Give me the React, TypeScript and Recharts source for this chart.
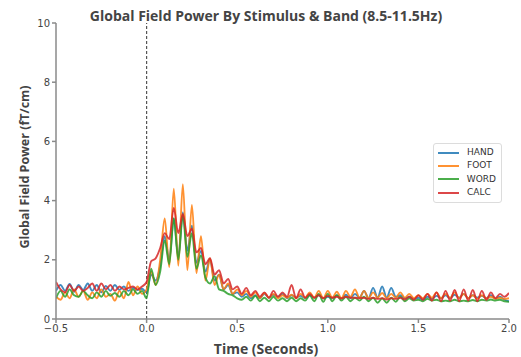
import React from "react";
import { LineChart, Line, XAxis, YAxis, ReferenceLine } from "recharts";

const times = [
  -0.5, -0.475, -0.45, -0.425, -0.4, -0.375, -0.35, -0.325, -0.3, -0.275,
  -0.25, -0.225, -0.2, -0.175, -0.15, -0.125, -0.1, -0.075, -0.05, -0.025,
  0, 0.025, 0.05, 0.075, 0.1, 0.125, 0.15, 0.175, 0.2, 0.225,
  0.25, 0.275, 0.3, 0.325, 0.35, 0.375, 0.4, 0.425, 0.45, 0.475,
  0.5, 0.525, 0.55, 0.575, 0.6, 0.625, 0.65, 0.675, 0.7, 0.725,
  0.75, 0.775, 0.8, 0.825, 0.85, 0.875, 0.9, 0.925, 0.95, 0.975,
  1.0, 1.025, 1.05, 1.075, 1.1, 1.125, 1.15, 1.175, 1.2, 1.225,
  1.25, 1.275, 1.3, 1.325, 1.35, 1.375, 1.4, 1.425, 1.45, 1.475,
  1.5, 1.525, 1.55, 1.575, 1.6, 1.625, 1.65, 1.675, 1.7, 1.725,
  1.75, 1.775, 1.8, 1.825, 1.85, 1.875, 1.9, 1.925, 1.95, 1.975,
  2.0,
];

const hand = [
  0.95, 1.15, 0.95, 1.18, 0.92, 1.15, 0.98, 1.2, 0.95, 1.15,
  0.9, 1.12, 0.95, 1.15, 0.98, 1.1, 0.95, 1.05, 0.98, 1.02,
  0.9, 1.5, 1.3, 1.8, 2.8, 2.0, 3.4, 2.1, 3.6, 2.3,
  3.15, 1.9, 2.3, 1.6, 2.0, 1.3, 1.5, 1.0, 1.15, 0.85,
  0.9, 0.75, 0.85, 0.7, 0.8, 0.7, 0.85, 0.72, 0.82, 0.75,
  0.85, 0.7, 0.8, 0.72, 0.78, 0.7, 0.8, 0.72, 0.8, 0.7,
  0.75, 0.7, 0.8, 0.68, 0.82, 0.7, 0.85, 0.72, 0.95, 0.7,
  1.05, 0.72, 1.1, 0.72, 1.05, 0.75, 0.8, 0.7, 0.75, 0.68,
  0.72, 0.65, 0.75, 0.68, 0.78, 0.7, 0.8, 0.7, 0.82, 0.72,
  0.85, 0.7, 0.8, 0.72, 0.78, 0.7, 0.8, 0.68, 0.75, 0.65,
  0.6,
];

const foot = [
  0.75, 0.65, 0.9, 0.7, 1.0, 0.75, 0.95, 0.65, 0.9, 0.7,
  1.0, 0.75, 0.85, 0.62, 0.95, 0.7, 1.25, 0.8, 1.1, 0.85,
  1.0, 1.6, 1.15, 2.0, 3.4, 1.75, 4.4, 1.8, 4.55, 1.65,
  3.85, 1.55, 2.8, 1.3, 2.05, 1.15, 1.5, 1.0, 1.2, 0.85,
  1.0, 0.8, 0.95, 0.75, 0.9, 0.7, 0.88, 0.72, 0.85, 0.7,
  0.8, 0.72, 0.82, 0.7, 0.85, 0.72, 0.9, 0.72, 0.95, 0.7,
  0.95, 0.72, 0.92, 0.7, 0.95, 0.75, 1.0, 0.72, 0.95, 0.7,
  0.9, 0.72, 0.88, 0.7, 0.85, 0.72, 0.9, 0.72, 0.85, 0.7,
  0.8, 0.7, 0.85, 0.72, 0.9, 0.7, 0.85, 0.72, 0.9, 0.7,
  0.85, 0.7, 0.8, 0.68, 0.8, 0.7, 0.75, 0.68, 0.72, 0.68,
  0.7,
];

const word = [
  0.7, 0.95, 0.75, 1.0, 0.8, 0.75, 0.95, 0.8, 0.7, 0.9,
  0.75, 0.95, 0.78, 0.88, 0.75, 0.95, 0.8, 1.0, 0.85, 0.95,
  0.7, 1.7, 1.15, 1.6, 2.65, 1.85, 3.4, 2.0, 3.5, 2.1,
  2.9, 1.7, 2.15, 1.4, 1.2, 1.45, 1.0, 0.95, 0.85, 0.8,
  0.7, 0.65, 0.75, 0.62, 0.78, 0.6, 0.72, 0.6, 0.75, 0.62,
  0.7, 0.6, 0.72, 0.6, 0.7, 0.62, 0.8, 0.6, 0.85, 0.58,
  0.85, 0.6, 0.8, 0.62, 0.75, 0.6, 0.72, 0.62, 0.75, 0.6,
  0.72, 0.55, 0.7, 0.55, 0.72, 0.58, 0.75, 0.6, 0.7, 0.62,
  0.65, 0.6, 0.68, 0.62, 0.65, 0.6, 0.62, 0.6, 0.65, 0.6,
  0.62, 0.6, 0.64, 0.6, 0.65, 0.62, 0.66, 0.62, 0.65, 0.6,
  0.58,
];

const calc = [
  1.25, 1.0, 0.9, 1.15, 0.95, 1.1, 0.95, 1.05, 1.2, 0.95,
  1.2, 1.0, 1.15, 0.95, 1.1, 1.0, 1.05, 1.1, 1.0, 1.1,
  1.25, 1.95, 2.05, 2.4, 2.9, 2.7, 3.75, 2.9, 3.55, 2.8,
  3.05, 2.25, 2.4, 1.85, 2.05, 1.5, 1.65, 1.2, 1.35, 1.0,
  1.1, 0.85, 1.05, 0.8, 0.95, 0.75, 0.9, 0.72, 0.95, 0.75,
  0.9, 0.75, 1.15, 0.7, 1.0, 0.72, 0.85, 0.72, 0.8, 0.7,
  0.78, 0.72, 0.75, 0.7, 0.75, 0.72, 0.72, 0.7, 0.72, 0.68,
  0.72, 0.68, 0.7, 0.66, 0.7, 0.68, 0.72, 0.66, 0.75, 0.65,
  0.8, 0.65, 0.85, 0.62, 0.9, 0.6, 0.95, 0.62, 0.98, 0.6,
  1.0, 0.62, 0.98, 0.6, 0.95, 0.65, 0.9, 0.7, 0.85, 0.75,
  0.88,
];

const xTicks = [-0.5, 0, 0.5, 1.0, 1.5, 2.0];
const yTicks = [0, 2, 4, 6, 8, 10];

const seriesNames = ["HAND", "FOOT", "WORD", "CALC"];
const seriesColors = ["#1f77b4", "#ff7f0e", "#2ca02c", "#d62728"];
const seriesValues = [hand, foot, word, calc];

const data = times.map((t, i) => {
  const row: Record<string, number> = { t };
  seriesNames.forEach((n, k) => {
    row[n] = seriesValues[k][i];
  });
  return row;
});

const fmt = (v: number) => {
  const s = v.toFixed(1);
  return s.startsWith("-") ? "\u2212" + s.slice(1) : s;
};

const LegendBox = () => (
  <div
    style={{
      position: "absolute",
      left: 433,
      top: 143,
      width: 58,
      border: "1px solid #dcdcdc",
      borderRadius: 3,
      background: "#fff",
      padding: "2px 5px 3px 4px",
      fontFamily: "'DejaVu Sans', sans-serif",
      fontSize: 9,
      color: "#333",
      lineHeight: "13.3px",
    }}
  >
    {seriesNames.map((n, k) => (
      <div key={n} style={{ display: "flex", alignItems: "center" }}>
        <span
          style={{
            display: "inline-block",
            width: 21,
            height: 0,
            borderTop: `2px solid ${seriesColors[k]}`,
            marginRight: 8,
            opacity: 0.85,
          }}
        />
        <span>{n}</span>
      </div>
    ))}
  </div>
);

export default function App() {
  const axisColor = "#8a8a8a";
  const tickStyle = { fill: "#444", fontSize: 10, fontFamily: "'DejaVu Sans', sans-serif" };
  return (
    <div style={{ position: "absolute", left: 0, top: 0, width: 521, height: 357, background: "#fff" }}>
      <LineChart
        width={521}
        height={357}
        data={data}
        margin={{ top: 23, right: 12, bottom: 8, left: 0 }}
      >
        <text
          x={266}
          y={21}
          textAnchor="middle"
          style={{ fontFamily: "'Open Sans', sans-serif", fontWeight: 700, fontSize: 14, fill: "#444" }}
        >
          Global Field Power By Stimulus &amp; Band (8.5-11.5Hz)
        </text>
        <text
          x={29}
          y={167}
          textAnchor="middle"
          transform="rotate(-90 29 167)"
          style={{ fontFamily: "'Open Sans', sans-serif", fontWeight: 700, fontSize: 12.5, fill: "#444" }}
        >
          Global Field Power (fT/cm)
        </text>
        <text
          x={266}
          y={354}
          textAnchor="middle"
          style={{ fontFamily: "'Open Sans', sans-serif", fontWeight: 700, fontSize: 14, fill: "#444" }}
        >
          Time (Seconds)
        </text>
        <XAxis
          dataKey="t"
          type="number"
          domain={[-0.5, 2.0]}
          ticks={xTicks}
          tickFormatter={fmt}
          height={30}
          stroke={axisColor}
          strokeWidth={1.5}
          tickSize={4}
          tick={tickStyle}
          allowDataOverflow
        />
        <YAxis
          type="number"
          domain={[0, 10]}
          ticks={yTicks}
          width={56}
          stroke={axisColor}
          strokeWidth={1.5}
          tickSize={4}
          tick={tickStyle}
          allowDataOverflow
        />
        <ReferenceLine x={0} stroke="#555" strokeDasharray="3 2" strokeWidth={1.2} />
        {seriesNames.map((n, k) => (
          <Line
            key={n}
            dataKey={n}
            type="monotone"
            stroke={seriesColors[k]}
            strokeWidth={1.9}
            strokeOpacity={0.85}
            dot={false}
            isAnimationActive={false}
          />
        ))}
      </LineChart>
      <LegendBox />
    </div>
  );
}
